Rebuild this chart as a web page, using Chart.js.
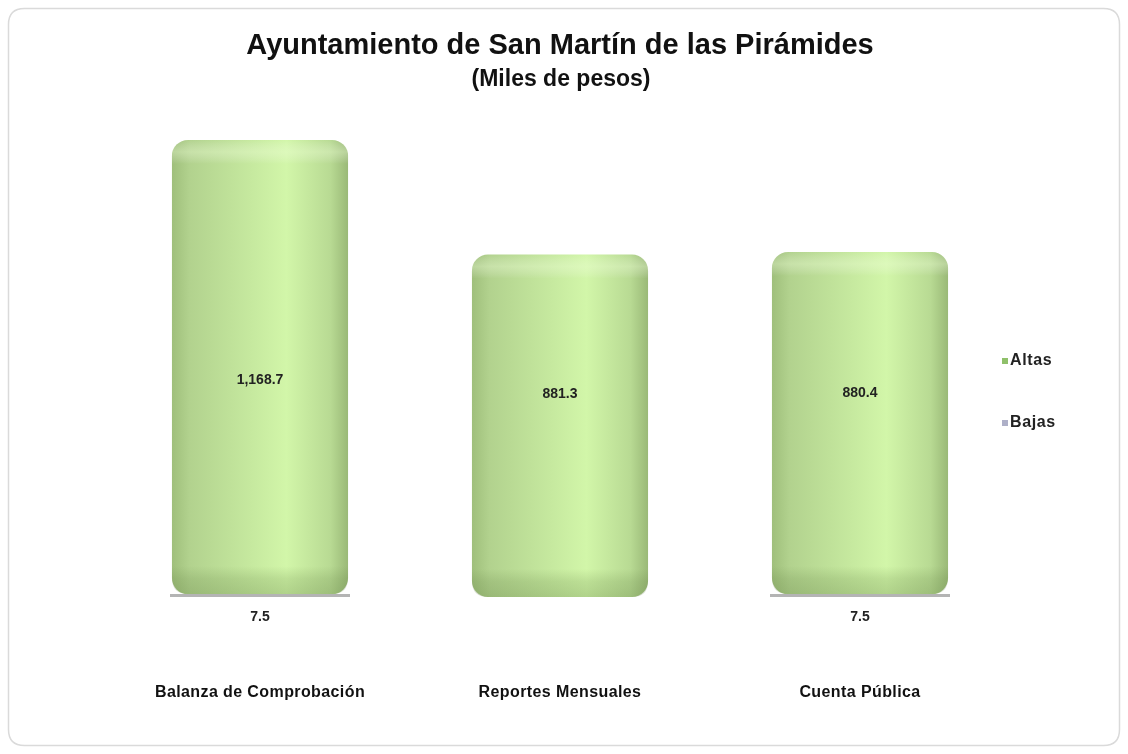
<!DOCTYPE html>
<html>
<head>
<meta charset="utf-8">
<script src="https://cdn.jsdelivr.net/npm/chart.js@4"></script>
<style>
html,body{margin:0;padding:0;background:#fff;}
#wrap{width:1128px;height:754px;position:relative;}
</style>
</head>
<body>
<div id="wrap"><canvas id="c" width="1128" height="754"></canvas></div>
<script>
const categories = ["Balanza de Comprobación", "Reportes Mensuales", "Cuenta Pública"];
const altas = [1168.7, 881.3, 880.4];
const bajas = [7.5, 0, 7.5];
const seriesNames = ["Altas", "Bajas"];
const titleText = "Ayuntamiento de San Martín de las Pirámides";
const subtitleText = "(Miles de pesos)";

const FONT = "'Liberation Sans', Arial, sans-serif";
const BAR_PCT = 0.587;

function fmt(v){
  return v.toLocaleString('en-US',{minimumFractionDigits:1,maximumFractionDigits:1});
}

function greenFill(ctx){
  const chart = ctx.chart;
  const xs = chart.scales && chart.scales.x;
  const ca = chart.chartArea;
  if(!xs || !ca || !isFinite(xs.getPixelForValue(ctx.dataIndex))) return '#c0e39a';
  const cx = xs.getPixelForValue(ctx.dataIndex);
  const w = ca.width / categories.length * BAR_PCT;
  const g = chart.ctx.createLinearGradient(cx - w/2, 0, cx + w/2, 0);
  g.addColorStop(0, '#9fbf7b');
  g.addColorStop(0.1, '#b2d28e');
  g.addColorStop(0.45, '#c6e99f');
  g.addColorStop(0.65, '#d2f6a9');
  g.addColorStop(0.9, '#b8da93');
  g.addColorStop(1, '#9ab977');
  return g;
}

function rr(c,x,y,w,h,r){
  c.beginPath();
  c.moveTo(x+r,y);c.lineTo(x+w-r,y);c.quadraticCurveTo(x+w,y,x+w,y+r);
  c.lineTo(x+w,y+h-r);c.quadraticCurveTo(x+w,y+h,x+w-r,y+h);
  c.lineTo(x+r,y+h);c.quadraticCurveTo(x,y+h,x,y+h-r);
  c.lineTo(x,y+r);c.quadraticCurveTo(x,y,x+r,y);
  c.closePath();
}

const decor = {
  id:'decor',
  beforeDraw(chart){
    const c = chart.ctx;
    c.save();
    c.strokeStyle = '#dadada';
    c.lineWidth = 1.5;
    rr(c,8.5,8.5,1111,737,16);
    c.stroke();
    c.restore();
    c.letterSpacing = '0.4px';
  },
  afterDatasetsDraw(chart){
    const c = chart.ctx;
    const m = chart.getDatasetMeta(1);
    m.data.forEach(el=>{
      const x = el.x - el.width/2, w = el.width;
      const top = el.y, bot = el.base;
      c.save();
      rr(c,x,top,w,bot-top,16);
      c.clip();
      let g = c.createLinearGradient(0, top, 0, top+24);
      g.addColorStop(0,'rgba(255,255,255,0)');
      g.addColorStop(0.5,'rgba(240,255,220,0.35)');
      g.addColorStop(1,'rgba(255,255,255,0)');
      c.fillStyle = g;
      c.fillRect(x, top, w, 24);
      g = c.createLinearGradient(0, bot-28, 0, bot);
      g.addColorStop(0,'rgba(90,120,60,0)');
      g.addColorStop(0.45,'rgba(90,120,60,0.18)');
      g.addColorStop(1,'rgba(90,120,60,0.28)');
      c.fillStyle = g;
      c.fillRect(x, bot-28, w, 28);
      c.restore();
    });
  },
  afterDraw(chart){
    const c = chart.ctx;
    const ca = chart.chartArea;
    c.save();
    c.letterSpacing = '0px';
    c.fillStyle = '#111';
    c.textAlign = 'center';
    c.textBaseline = 'middle';
    c.font = 'bold 29px ' + FONT;
    c.fillText(titleText, 560, 46);
    c.font = 'bold 23px ' + FONT;
    c.fillText(subtitleText, 561, 80);
    c.font = 'bold 14px ' + FONT;
    c.fillStyle = '#222';
    const mid = ca.top + 0.555*ca.height;
    const mA = chart.getDatasetMeta(1);
    mA.data.forEach((el,i)=>{
      const center = (el.y + el.base)/2;
      c.fillText(fmt(altas[i]), el.x, 0.23*center + 0.77*mid);
    });
    const mB = chart.getDatasetMeta(0);
    mB.data.forEach((el,i)=>{
      if(!bajas[i]) return;
      c.fillText(fmt(bajas[i]), el.x, el.base + 20);
    });
    const items = [{t:seriesNames[0], col:'#8fc06a', y:361},{t:seriesNames[1], col:'#aeb0c8', y:423}];
    c.font = 'bold 16px ' + FONT;
    c.textAlign = 'left';
    c.letterSpacing = '0.6px';
    items.forEach(it=>{
      c.fillStyle = it.col;
      c.fillRect(1002, it.y-3, 6, 6);
      c.fillStyle = '#222';
      c.fillText(it.t, 1010, it.y);
    });
    c.restore();
  }
};

new Chart(document.getElementById('c'), {
  type:'bar',
  data:{
    labels: categories,
    datasets:[
      {label: seriesNames[1], data: bajas, backgroundColor:'#b4b4b4', borderWidth:0, categoryPercentage:1, barPercentage:0.6},
      {label: seriesNames[0], data: altas, backgroundColor: greenFill, borderWidth:0,
       borderRadius:{topLeft:16, topRight:16, bottomLeft:16, bottomRight:16}, borderSkipped:false,
       categoryPercentage:1, barPercentage:BAR_PCT}
    ]
  },
  options:{
    responsive:false,
    animation:false,
    layout:{padding:{top:119, left:110, right:118, bottom:40}},
    plugins:{legend:{display:false}, tooltip:{enabled:false}},
    scales:{
      x:{stacked:true, grid:{display:false}, border:{display:false},
         afterFit(scale){ scale.height = 117; },
         ticks:{padding:78, maxRotation:0, autoSkip:false, color:'#111', font:{family:FONT, size:16, weight:'bold'}}},
      y:{stacked:true, display:false, min:0, max:1230}
    }
  },
  plugins:[decor]
});
</script>
</body>
</html>
